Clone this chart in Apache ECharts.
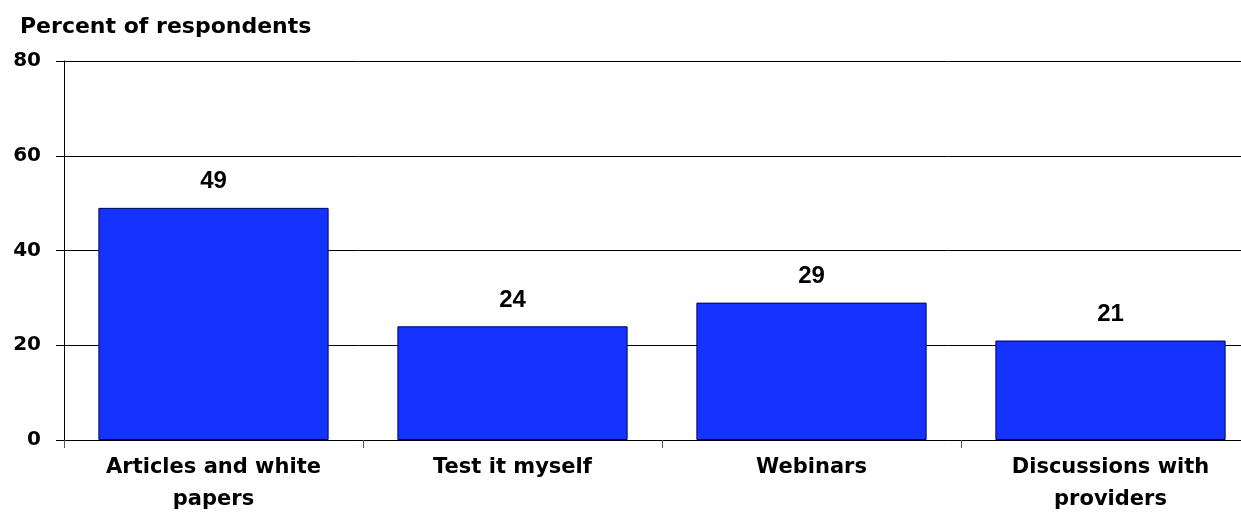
<!DOCTYPE html>
<html>
<head>
<meta charset="utf-8">
<script src="https://cdn.jsdelivr.net/npm/echarts@6/dist/echarts.min.js"></script>
<style>
  html, body { margin: 0; padding: 0; background: #fff; }
  #chart { width: 1241px; height: 517px; }
</style>
</head>
<body>
<div id="chart"></div>
<script>
const categories = ["Articles and white\npapers", "Test it myself", "Webinars", "Discussions with\nproviders"];
const values = [49, 24, 29, 21];
const yTicks = [0, 20, 40, 60, 80];

// wide bold face to match the stretched look of the original
const wideFont = "'DejaVu Sans', sans-serif";
const numFont = "'Liberation Sans', Arial, sans-serif";

var chart = echarts.init(document.getElementById("chart"));

chart.setOption({
  animation: false,
  title: {
    text: "Percent of respondents",
    left: 15,
    top: 11,
    textStyle: { fontSize: 22, fontWeight: "bold", color: "#000", fontFamily: wideFont },
  },
  // plot runs a little past the right edge of the picture
  grid: { left: 64, width: 1196, top: 61, bottom: 77, outerBoundsMode: "none" },
  xAxis: {
    type: "category",
    data: categories,
    axisLine: { lineStyle: { color: "#000", width: 1 } },
    axisTick: { show: true, length: 8, lineStyle: { color: "#555" } },
    axisLabel: {
      color: "#000",
      fontSize: 21,
      fontWeight: "bold",
      lineHeight: 32,
      margin: 12,
      fontFamily: wideFont,
    },
  },
  yAxis: {
    type: "value",
    min: yTicks[0],
    max: yTicks[yTicks.length - 1],
    interval: 20,
    axisLine: { show: true, lineStyle: { color: "#000", width: 1 } },
    axisTick: { show: true, length: 8, lineStyle: { color: "#000" } },
    splitLine: { show: true, lineStyle: { color: "#000", width: 1 } },
    axisLabel: {
      color: "#000",
      fontSize: 20,
      fontWeight: "bold",
      margin: 23,
      fontFamily: wideFont,
    },
  },
  series: [
    {
      type: "bar",
      data: values,
      barCategoryGap: "23%",
      itemStyle: { color: "#1433ff", borderColor: "#000066", borderWidth: 1 },
      label: {
        show: true,
        position: "top",
        distance: 14,
        color: "#000",
        fontSize: 24,
        fontWeight: "bold",
        fontFamily: numFont,
      },
    },
  ],
});
</script>
</body>
</html>
